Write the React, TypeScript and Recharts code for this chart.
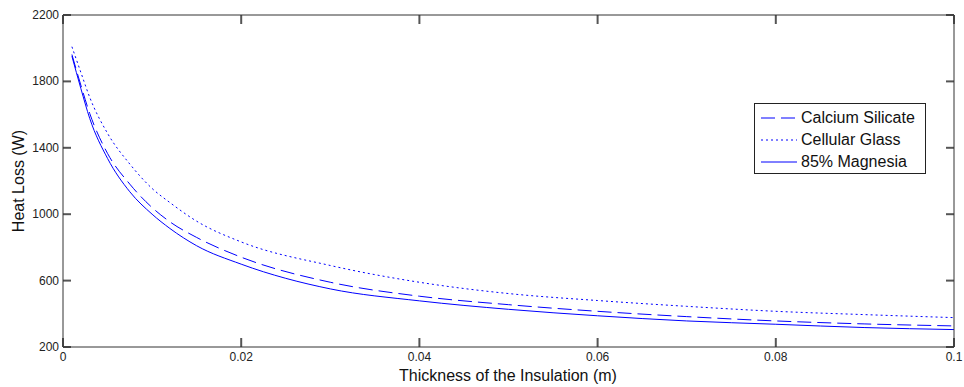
import React from "react";
import { LineChart, Line, XAxis, YAxis, Legend, Label, ReferenceLine } from "recharts";

const thickness = [0.001, 0.002, 0.003, 0.005, 0.0075, 0.01, 0.012, 0.015, 0.02, 0.03, 0.04, 0.05, 0.06, 0.07, 0.08, 0.09, 0.1];
const calciumSilicate = [1962, 1778, 1607, 1366, 1181, 1040, 954, 860, 741, 590, 506, 455, 415, 383, 357, 339, 327];
const cellularGlass = [2009, 1855, 1704, 1487, 1302, 1155, 1070, 958, 833, 691, 590, 522, 480, 445, 415, 395, 377];
const magnesia = [1952, 1758, 1577, 1336, 1135, 1000, 914, 810, 699, 550, 478, 427, 388, 357, 337, 317, 305];

const xTicks = [0, 0.02, 0.04, 0.06, 0.08, 0.1];
const yTicks = [200, 600, 1000, 1400, 1800, 2200];
const X_DOMAIN: [number, number] = [0, 0.1];
const Y_DOMAIN: [number, number] = [200, 2200];

const series = [
  { key: "cs", name: "Calcium Silicate", dash: "14 6" },
  { key: "cg", name: "Cellular Glass", dash: "2 3" },
  { key: "mg", name: "85% Magnesia", dash: undefined as string | undefined },
];

const data = thickness.map((t, i) => ({
  t,
  cs: calciumSilicate[i],
  cg: cellularGlass[i],
  mg: magnesia[i],
}));

const FONT = "'Liberation Sans', Arial, sans-serif";
const BLUE = "#0000ff";
const AXIS = "#333";
const TICK = "#555";

const W = 964;
const H = 387;
const M = { top: 14, right: 9, left: 0, bottom: 0 };
const Y_AXIS_W = 63;
const X_AXIS_H = 40;
const PLOT_W = W - M.left - M.right - Y_AXIS_W - 1;
const PLOT_H = H - M.top - M.bottom - X_AXIS_H - 1;
// matlab ticks point inward: 9px on x, 8px on y, turned into data units
const xTickLen = ((Y_DOMAIN[1] - Y_DOMAIN[0]) * 9) / PLOT_H;
const yTickLen = ((X_DOMAIN[1] - X_DOMAIN[0]) * 8) / PLOT_W;

const bottomLabel = (props: any) => {
  const { x, y, payload } = props;
  return (
    <text key={`b-${payload.value}`} x={x} y={Number(y) + 10} textAnchor="middle" fontFamily={FONT} fontSize={12} fill="#222">
      {payload.value}
    </text>
  );
};

const leftLabel = (props: any) => {
  const { x, y, payload } = props;
  return (
    <text key={`l-${payload.value}`} x={x} y={Number(y) + 4} textAnchor="end" fontFamily={FONT} fontSize={12} fill="#222">
      {payload.value}
    </text>
  );
};

const LegendBox = () => (
  <div
    style={{
      width: 172,
      height: 71,
      border: "1px solid #222",
      background: "#fff",
      fontFamily: FONT,
      fontSize: 16,
      color: "#111",
      boxSizing: "border-box",
      paddingTop: 3,
    }}
  >
    {series.map((s) => (
      <div key={s.key} style={{ display: "flex", alignItems: "center", height: 22 }}>
        <svg width={46} height={10}>
          <line x1={6} y1={5} x2={42} y2={5} stroke={BLUE} strokeWidth={1} strokeDasharray={s.dash} />
        </svg>
        <span>{s.name}</span>
      </div>
    ))}
  </div>
);

const tickSegments = [
  ...xTicks.map((t) => ({ id: `xb-${t}`, seg: [{ x: t, y: Y_DOMAIN[0] }, { x: t, y: Y_DOMAIN[0] + xTickLen }] })),
  ...xTicks.map((t) => ({ id: `xt-${t}`, seg: [{ x: t, y: Y_DOMAIN[1] }, { x: t, y: Y_DOMAIN[1] - xTickLen }] })),
  ...yTicks.map((v) => ({ id: `yl-${v}`, seg: [{ x: X_DOMAIN[0], y: v }, { x: X_DOMAIN[0] + yTickLen, y: v }] })),
  ...yTicks.map((v) => ({ id: `yr-${v}`, seg: [{ x: X_DOMAIN[1], y: v }, { x: X_DOMAIN[1] - yTickLen, y: v }] })),
];

export default function App() {
  return (
    <div style={{ position: "absolute", left: 0, top: 0, width: W, height: H, background: "#fff" }}>
      <LineChart width={W} height={H} data={data} margin={M}>
        <XAxis
          xAxisId="b"
          dataKey="t"
          type="number"
          domain={X_DOMAIN}
          ticks={xTicks}
          allowDataOverflow
          height={X_AXIS_H}
          tickSize={0}
          tickLine={false}
          tickMargin={4}
          stroke={AXIS}
          tick={bottomLabel}
        >
          <Label
            content={() => (
              <text x={508} y={381} textAnchor="middle" fontFamily={FONT} fontSize={16} fill="#111">
                Thickness of the Insulation (m)
              </text>
            )}
          />
        </XAxis>
        <XAxis
          xAxisId="t"
          orientation="top"
          dataKey="t"
          type="number"
          domain={X_DOMAIN}
          ticks={xTicks}
          allowDataOverflow
          height={1}
          tickLine={false}
          tick={false}
          stroke={AXIS}
        />
        <YAxis
          yAxisId="l"
          type="number"
          domain={Y_DOMAIN}
          ticks={yTicks}
          allowDataOverflow
          width={Y_AXIS_W}
          tickSize={0}
          tickLine={false}
          tickMargin={4}
          stroke={AXIS}
          tick={leftLabel}
        >
          <Label
            content={() => (
              <text
                x={20}
                y={181}
                transform="rotate(-90 20 181)"
                textAnchor="middle"
                dominantBaseline="middle"
                fontFamily={FONT}
                fontSize={16}
                fill="#111"
              >
                Heat Loss (W)
              </text>
            )}
          />
        </YAxis>
        <YAxis
          yAxisId="r"
          orientation="right"
          type="number"
          domain={Y_DOMAIN}
          ticks={yTicks}
          allowDataOverflow
          width={1}
          tickLine={false}
          tick={false}
          stroke={AXIS}
        />
        {tickSegments.map((s) => (
          <ReferenceLine
            key={s.id}
            xAxisId="b"
            yAxisId="l"
            segment={s.seg}
            ifOverflow="visible"
            stroke={TICK}
            strokeWidth={2}
          />
        ))}
        {series.map((s) => (
          <Line
            key={s.key}
            xAxisId="b"
            yAxisId="l"
            dataKey={s.key}
            name={s.name}
            type="monotone"
            stroke={BLUE}
            strokeWidth={1}
            strokeDasharray={s.dash}
            dot={false}
            activeDot={false}
            isAnimationActive={false}
          />
        ))}
        <Legend
          layout="vertical"
          align="center"
          verticalAlign="middle"
          content={() => <LegendBox />}
          wrapperStyle={{ left: 754, top: 103, width: 172, height: 71 }}
        />
      </LineChart>
    </div>
  );
}
